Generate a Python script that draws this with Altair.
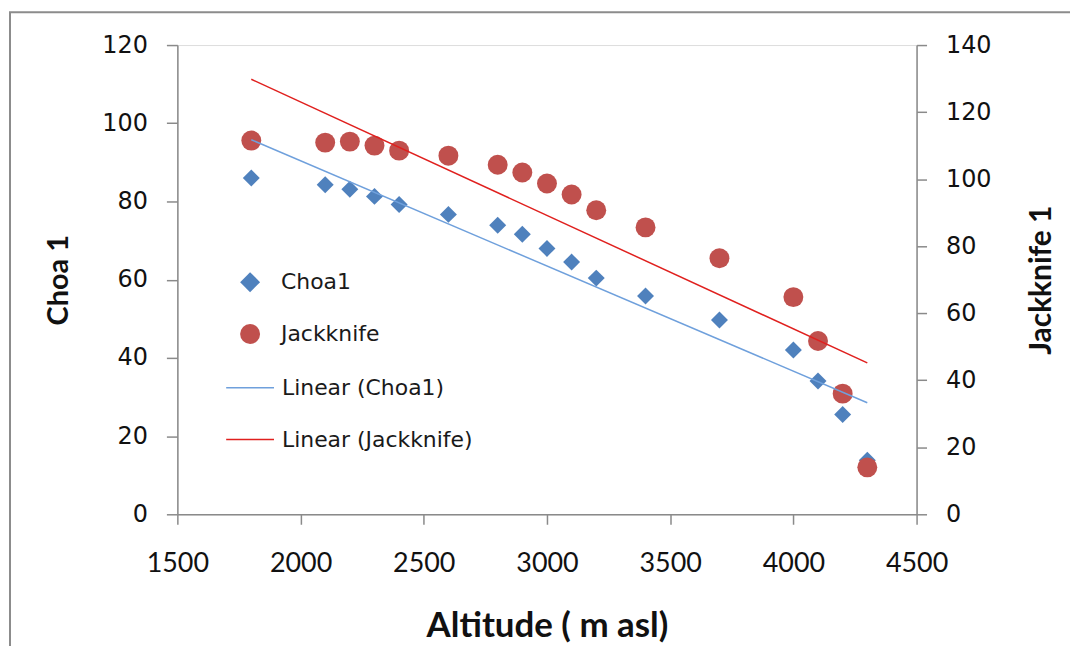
import altair as alt
import pandas as pd

# ---- data ----
altitude = [1800, 2100, 2200, 2300, 2400, 2600, 2800, 2900, 3000, 3100, 3200,
            3400, 3700, 4000, 4100, 4200, 4300]
choa1 = [86.0, 84.3, 83.1, 81.3, 79.2, 76.7, 73.9, 71.6, 68.0, 64.5, 60.4,
         55.8, 49.7, 42.0, 34.1, 25.5, 13.8]
jackknife = [111.5, 110.9, 111.2, 110.0, 108.5, 107.0, 104.3, 102.0, 98.7, 95.4,
             90.7, 85.6, 76.4, 64.8, 51.7, 36.0, 14.0]

point_series = ["Choa1", "Jackknife"]
point_colors = ["#4F81BD", "#C0504D"]
point_shapes = ["diamond", "circle"]
line_series = ["Linear (Choa1)", "Linear (Jackknife)"]
line_colors = ["#6FA0DC", "#E0201E"]

x_ticks = [1500, 2000, 2500, 3000, 3500, 4000, 4500]
left_ticks = [0, 20, 40, 60, 80, 100, 120]
right_ticks = [0, 20, 40, 60, 80, 100, 120, 140]

df = pd.DataFrame({"alt": altitude, "choa": choa1, "jack": jackknife})

AXIS_GRAY = "#8A8A8A"
W, H = 742, 471


def point_legend():
    return alt.Legend(
        title=None, orient="none", legendX=62, legendY=227,
        labelFont="DejaVu Sans", labelFontSize=22, labelColor="#1a1a1a",
        symbolSize=400, labelOffset=20, rowPadding=30, padding=0,
        symbolOpacity=1, symbolStrokeWidth=0, labelLimit=400,
    )


line_legend = alt.Legend(
    title=None, orient="none", legendX=48, legendY=319,
    labelFont="DejaVu Sans", labelFontSize=22, labelColor="#1a1a1a",
    symbolType="stroke", symbolSize=2304, symbolStrokeWidth=1.5,
    labelOffset=7, rowPadding=16, padding=0, labelLimit=400,
)

color_enc = alt.Color("series:N", scale=alt.Scale(domain=point_series, range=point_colors),
                      legend=point_legend())
shape_enc = alt.Shape("series:N", scale=alt.Scale(domain=point_series, range=point_shapes),
                      legend=point_legend())
stroke_enc = alt.Stroke("series:N", scale=alt.Scale(domain=line_series, range=line_colors),
                        legend=line_legend)

x_enc = alt.X("alt:Q", scale=alt.Scale(domain=[1500, 4500], nice=False),
              axis=alt.Axis(values=x_ticks, format="d", title="Altitude ( m asl)", grid=False,
                            labelFont="Lato", labelFontSize=27, labelColor="#111",
                            labelPadding=26, labelFlush=False, tickSize=10,
                            tickColor=AXIS_GRAY,
                            domainColor=AXIS_GRAY, domainWidth=1.5, tickWidth=1.5,
                            titleFont="Lato", titleFontSize=35, titleFontWeight="bold",
                            titleColor="#111", titlePadding=33))

left_axis = alt.Axis(values=left_ticks, title="Choa 1", orient="left", grid=False,
                     labelFont="DejaVu Sans", labelFontSize=24, labelColor="#111",
                     labelPadding=19, tickSize=11, tickColor=AXIS_GRAY,
                     domainColor=AXIS_GRAY, domainWidth=1.5, tickWidth=1.5,
                     titleFont="Lato", titleFontSize=29, titleFontWeight="bold",
                     titleColor="#111", titlePadding=28)
right_axis = alt.Axis(values=right_ticks, title="Jackknife 1", orient="right", grid=False,
                      labelFont="DejaVu Sans", labelFontSize=24, labelColor="#111",
                      labelPadding=19, tickSize=10, tickColor=AXIS_GRAY,
                      domainColor=AXIS_GRAY, domainWidth=1.5, tickWidth=1.5,
                      titleFont="Lato", titleFontSize=30, titleFontWeight="bold",
                      titleColor="#111", titlePadding=36, titleAngle=270,
                      titleBaseline="top")

left_scale = alt.Scale(domain=[0, 120], nice=False)
right_scale = alt.Scale(domain=[0, 140], nice=False)

base = alt.Chart(df)

choa_pts = base.transform_calculate(series="'Choa1'").mark_point(
    filled=True, opacity=1, size=290).encode(
    x=x_enc, y=alt.Y("choa:Q", scale=left_scale, axis=left_axis),
    color=color_enc, shape=shape_enc)

jack_pts = base.transform_calculate(series="'Jackknife'").mark_point(
    filled=True, opacity=1, size=400).encode(
    x=x_enc, y=alt.Y("jack:Q", scale=right_scale, axis=right_axis),
    color=color_enc, shape=shape_enc)

choa_line = base.transform_regression("alt", "choa", method="linear").transform_calculate(
    series="'Linear (Choa1)'").mark_line(strokeWidth=1.5).encode(
    x=x_enc, y=alt.Y("choa:Q", scale=left_scale, axis=None), stroke=stroke_enc)

jack_line = base.transform_regression("alt", "jack", method="linear").transform_calculate(
    series="'Linear (Jackknife)'").mark_line(strokeWidth=1.5).encode(
    x=x_enc, y=alt.Y("jack:Q", scale=right_scale, axis=None), stroke=stroke_enc)

frame = alt.Chart(pd.DataFrame({"f": [0]})).mark_rect(
    fill=None, stroke="#8C8C8C", strokeWidth=2).encode(
    x=alt.value(-168), x2=alt.value(1000), y=alt.value(-33), y2=alt.value(700))

chart = alt.layer(frame, choa_pts, jack_pts, choa_line, jack_line).resolve_scale(
    y="independent").properties(
    width=W, height=H, autosize=alt.AutoSizeParams(type="none"),
    padding={"left": 170, "top": 36, "right": 154, "bottom": 131},
).configure_view(strokeWidth=0).configure(background="white")

chart.save("out.html", embed_options={"renderer": "svg", "actions": False})
